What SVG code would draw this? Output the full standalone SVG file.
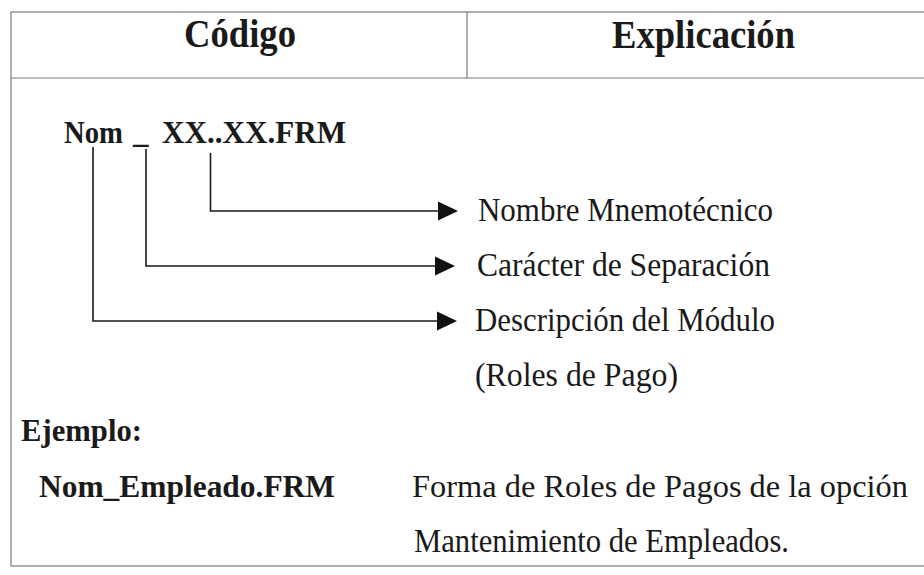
<svg xmlns="http://www.w3.org/2000/svg" width="924" height="575" viewBox="0 0 924 575">
<style>
.frame{fill:none;stroke:#7a7a7a;stroke-width:1.2}
.conn{fill:none;stroke:#1a1a1a;stroke-width:1.6}
.head{fill:#111}
text{font-family:"Liberation Serif","Times New Roman",serif;fill:#1a1a1a}
.h{font-size:39px;font-weight:bold}
.b{font-size:31px;font-weight:bold}
.r{font-size:33px}
</style>
<rect width="924" height="575" fill="#ffffff"/>
<g id="table">
<rect class="frame" x="11" y="12" width="930" height="554"/>
<line class="frame" x1="11" y1="78" x2="924" y2="78"/>
<line class="frame" x1="467" y1="12" x2="467" y2="78"/>
</g>
<g id="header-codigo"><text class="h" x="184" y="47" textLength="112" lengthAdjust="spacingAndGlyphs">Código</text></g>
<g id="header-explicacion"><text class="h" x="612" y="48" textLength="183" lengthAdjust="spacingAndGlyphs">Explicación</text></g>
<g id="code">
<text class="b" x="64" y="143" textLength="59" lengthAdjust="spacingAndGlyphs">Nom</text>
<text class="b" x="133" y="143">_</text>
<text class="b" x="162" y="143" textLength="184" lengthAdjust="spacingAndGlyphs">XX..XX.FRM</text>
</g>
<g id="connectors">
<path class="conn" d="M210.5,153 V211 H441"/>
<polygon class="head" points="438,201.5 458,211 438,220.5"/>
<path class="conn" d="M146,149 V266 H437"/>
<polygon class="head" points="435,256.5 455,266 435,275.5"/>
<path class="conn" d="M93,147 V321 H439"/>
<polygon class="head" points="437,311.5 457,321 437,330.5"/>
</g>
<g id="label-nombre"><text class="r" x="478" y="220.5" textLength="295" lengthAdjust="spacingAndGlyphs">Nombre Mnemotécnico</text></g>
<g id="label-caracter"><text class="r" x="477" y="275.5" textLength="293" lengthAdjust="spacingAndGlyphs">Carácter de Separación</text></g>
<g id="label-descripcion">
<text class="r" x="475" y="330.5" textLength="300" lengthAdjust="spacingAndGlyphs">Descripción del Módulo</text>
<text class="r" x="475" y="386" textLength="203" lengthAdjust="spacingAndGlyphs">(Roles de Pago)</text>
</g>
<g id="example">
<text class="b" x="21" y="441" textLength="121" lengthAdjust="spacingAndGlyphs">Ejemplo:</text>
<text class="b" x="39" y="496.5" textLength="296" lengthAdjust="spacingAndGlyphs">Nom_Empleado.FRM</text>
<text class="r" x="412" y="496.5" textLength="496" lengthAdjust="spacingAndGlyphs" style="font-size:32px">Forma de Roles de Pagos de la opción</text>
<text class="r" x="414" y="552" textLength="375" lengthAdjust="spacingAndGlyphs">Mantenimiento de Empleados.</text>
</g>
</svg>
